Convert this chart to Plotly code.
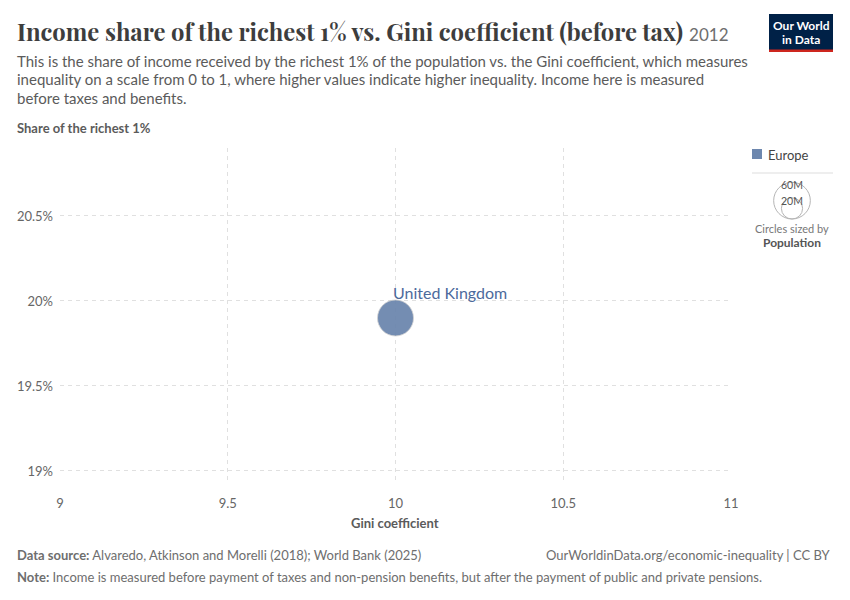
import math

import plotly.graph_objects as go

# data
countries = ["United Kingdom"]
regions = ["Europe"]
gini = [10.0]
top1_share = [19.9]
population = [63.7e6]
legend_sizes = [60e6, 20e6]
legend_labels = ["60M", "20M"]
x_ticks = [9, 9.5, 10, 10.5, 11]
y_ticks = [19, 19.5, 20, 20.5]
y_ticklabels = ["19%", "19.5%", "20%", "20.5%"]

# the page body adds an 8px margin, so work in reference pixels and shift
OFF = 8
W, H = 850 - OFF, 600 - OFF
L, R, T, B = 60 - OFF, 731 - OFF, 148 - OFF, 482 - OFF
EUROPE = "#6D87AE"
TEXT = "#5b5b5b"
FONT = "Lato, 'Noto Sans', sans-serif"
MAX_D = 36  # px diameter for the biggest bubble


def px(x):
    return (x - OFF - L) / (R - L)


def py(y):
    return (B - (y - OFF)) / (B - T)


def diam(p):
    return MAX_D * math.sqrt(p / max(population))


fig = go.Figure()
fig.add_trace(
    go.Scatter(
        x=gini,
        y=top1_share,
        mode="markers",
        marker=dict(
            size=[diam(p) for p in population],
            color=EUROPE,
            opacity=0.95,
            line=dict(color="#d0d0d0", width=0.8),
        ),
        text=countries,
        name=regions[0],
        showlegend=False,
        hovertemplate="%{text}<br>Gini: %{x}<br>Top 1%%: %{y}%%<extra></extra>",
    )
)

annotations = []
shapes = []


def add_text(x, y, text, size=13, color=TEXT, anchor="left", family=FONT):
    annotations.append(
        dict(
            x=px(x), y=py(y), xref="paper", yref="paper", text=text,
            showarrow=False, xanchor=anchor, yanchor="middle",
            font=dict(size=size, color=color, family=family),
        )
    )


# country label
for c, g, s in zip(countries, gini, top1_share):
    annotations.append(
        dict(x=g, y=s, xref="x", yref="y", text=c, showarrow=False,
             xanchor="left", yanchor="bottom", xshift=-5, yshift=14,
             font=dict(size=16, color="#4C6A9C", family=FONT))
    )

# title block
add_text(15, 31, "<b>Income share of the richest 1% vs. Gini coefficient (before tax)</b> "
         "<span style='font-family:Lato;font-size:17px;color:#6e6e6e'>2012</span>",
         size=23.8, color="#3d3d3d", family="'Playfair Display', 'DejaVu Serif', serif")
subtitle = [
    "This is the share of income received by the richest 1% of the population vs. the Gini coefficient, which measures",
    "inequality on a scale from 0 to 1, where higher values indicate higher inequality. Income here is measured",
    "before taxes and benefits.",
]
for i, line in enumerate(subtitle):
    add_text(15, 61 + i * 18.5, line, size=15, color="#5b5b5b")
add_text(15, 128, "<b>Share of the richest 1%</b>", size=13, color="#5b5b5b")
add_text(395, 523, "<b>Gini coefficient</b>", size=13, color="#5b5b5b", anchor="center")

# footer
add_text(15, 555, "<b>Data source:</b> Alvaredo, Atkinson and Morelli (2018); World Bank (2025)",
         size=13, color="#6e6e6e")
add_text(833, 555, "OurWorldinData.org/economic-inequality | CC BY", size=13,
         color="#6e6e6e", anchor="right")
add_text(15, 577, "<b>Note:</b> Income is measured before payment of taxes and non-pension benefits, "
         "but after the payment of public and private pensions.", size=13, color="#6e6e6e")

# logo
shapes.append(dict(type="rect", xref="paper", yref="paper", x0=px(769), x1=px(833),
                   y0=py(52), y1=py(14), fillcolor="#002147", line=dict(width=0)))
shapes.append(dict(type="rect", xref="paper", yref="paper", x0=px(769), x1=px(833),
                   y0=py(52), y1=py(49.5), fillcolor="#CE261E", line=dict(width=0)))
add_text(801, 26, "<b>Our World</b>", size=12, color="white", anchor="center")
add_text(801, 40, "<b>in Data</b>", size=12, color="white", anchor="center")

# legend: colour
shapes.append(dict(type="rect", xref="paper", yref="paper", x0=px(752), x1=px(762),
                   y0=py(159), y1=py(149), fillcolor=EUROPE, line=dict(width=0)))
add_text(766, 154.5, regions[0], size=13, color="#444")
shapes.append(dict(type="line", xref="paper", yref="paper", x0=px(752), x1=px(833),
                   y0=py(173), y1=py(173), line=dict(color="#dddddd", width=1)))

# legend: bubble sizes
base = 219
for p, lab in zip(legend_sizes, legend_labels):
    r = diam(p) / 2 * 1.05
    shapes.append(dict(type="circle", xref="paper", yref="paper",
                       x0=px(792 - r), x1=px(792 + r), y0=py(base), y1=py(base - 2 * r),
                       line=dict(color="#b5b5b5", width=1), fillcolor="rgba(0,0,0,0)"))
    add_text(792, base - 2 * r + 3, lab, size=10.5, color="#555", anchor="center")
add_text(792, 228, "Circles sized by", size=11, color="#777", anchor="center")
add_text(792, 242, "<b>Population</b>", size=12, color="#555", anchor="center")

axis_common = dict(
    showgrid=True, gridcolor="#e0e0e0", griddash="4px,4px", gridwidth=1,
    zeroline=False, showline=False, ticks="", automargin=False,
    tickfont=dict(size=13, color="#666", family=FONT),
)

fig.update_layout(
    width=W, height=H,
    margin=dict(l=L, r=W - R, t=T, b=H - B),
    paper_bgcolor="white", plot_bgcolor="white",
    font=dict(family=FONT),
    xaxis=dict(range=[9, 11], tickvals=x_ticks, ticktext=[str(v) for v in x_ticks],
               ticklabelstandoff=12, **axis_common),
    yaxis=dict(range=[18.935, 20.9], tickvals=y_ticks, ticktext=y_ticklabels,
               ticklabelstandoff=6, **axis_common),
    annotations=annotations,
    shapes=shapes,
    showlegend=False,
)

fig.write_html("out.html")
